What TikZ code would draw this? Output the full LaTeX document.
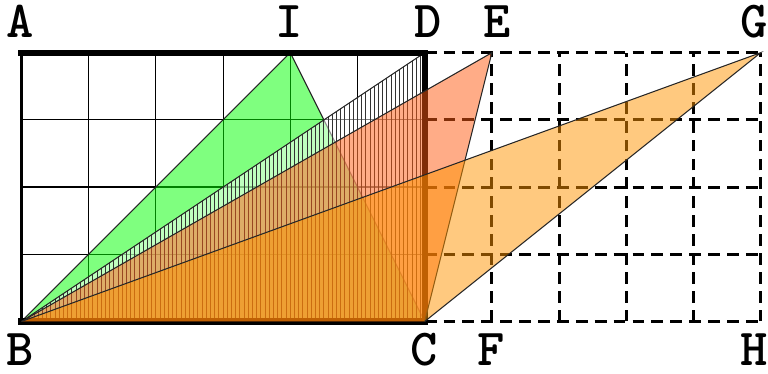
\documentclass[tikz,border=0pt]{standalone}
\usepackage{tikz}
\usetikzlibrary{positioning}
\definecolor{Leaf}{HTML}{00FF00}
\definecolor{Salmon}{HTML}{FF5A10}
\definecolor{Amber}{HTML}{FF9400}
\definecolor{Hatch}{HTML}{333333}

\begin{document}
\begin{tikzpicture}[x=1cm,y=1cm,
    lab/.style={font=\ttfamily\bfseries\fontsize{22}{22}\selectfont,inner sep=0pt},
    edge/.style={draw=black!85,line width=0.45pt}]
      \useasboundingbox (-0.32,-0.781) rectangle (11.109,4.784);
      \coordinate (B) at (0,0);
      \coordinate (A) at (0,4);
      \coordinate (C) at (6,0);
      \coordinate (D) at (6,4);
      \coordinate (I) at (4,4);
      \coordinate (E) at (7,4);
      \coordinate (F) at (7,0);
      \coordinate (G) at (11,4);
      \coordinate (H) at (11,0);
      % grids
      \draw[line width=0.5pt] (B) grid (D);
      \draw[line width=1.3pt,dash pattern=on 5pt off 3pt]
        (C) -- (H) (6,1) -- (11,1) (6,2) -- (11,2) (6,3) -- (11,3) (D) -- (G);
      \foreach \x in {7,...,11}
        \draw[line width=1.3pt,dash pattern=on 5pt off 3pt] (\x,0) -- (\x,4);
      % green triangle
      \fill[Leaf,opacity=0.5] (B) -- (I) -- (C) -- cycle;
      \draw[edge] (B) -- (I) -- (C);
      % hatched triangle
      \begin{scope}
        \clip (B) -- (D) -- (C) -- cycle;
        \fill[white,opacity=0.5] (B) -- (D) -- (C) -- cycle;
        \foreach \i in {1,...,96}
          \draw[Hatch,line width=0.35pt] (\i/16,0) -- (\i/16,4);
      \end{scope}
      \draw[edge] (B) -- (D);
      % frame
      \draw[line width=0.9pt] (A) -- (B);
      \draw[line width=2.6pt,line cap=rect] (A) -- (D) -- (C) -- (B);
      % orange triangles
      \fill[Salmon,opacity=0.5] (B) -- (E) -- (C) -- cycle;
      \draw[edge] (B) -- (E) -- (C);
      \fill[Amber,opacity=0.5] (B) -- (G) -- (C) -- cycle;
      \draw[edge] (B) -- (G) -- (C);
      % labels
      \node[lab] (tA) at (-0.02,4.46) {A};
      \node[lab] (tI) at (3.98,4.46) {I};
      \node[lab] (tD) at (6.05,4.46) {D};
      \node[lab] (tE) at (7.08,4.46) {E};
      \node[lab] (tG) at (10.9,4.46) {G};
      \node[lab] (tB) at (-0.02,-0.42) {B};
      \node[lab] (tC) at (5.99,-0.42) {C};
      \node[lab] (tF) at (6.99,-0.42) {F};
      \node[lab] (tH) at (10.9,-0.42) {H};
    \end{tikzpicture}
\end{document}
